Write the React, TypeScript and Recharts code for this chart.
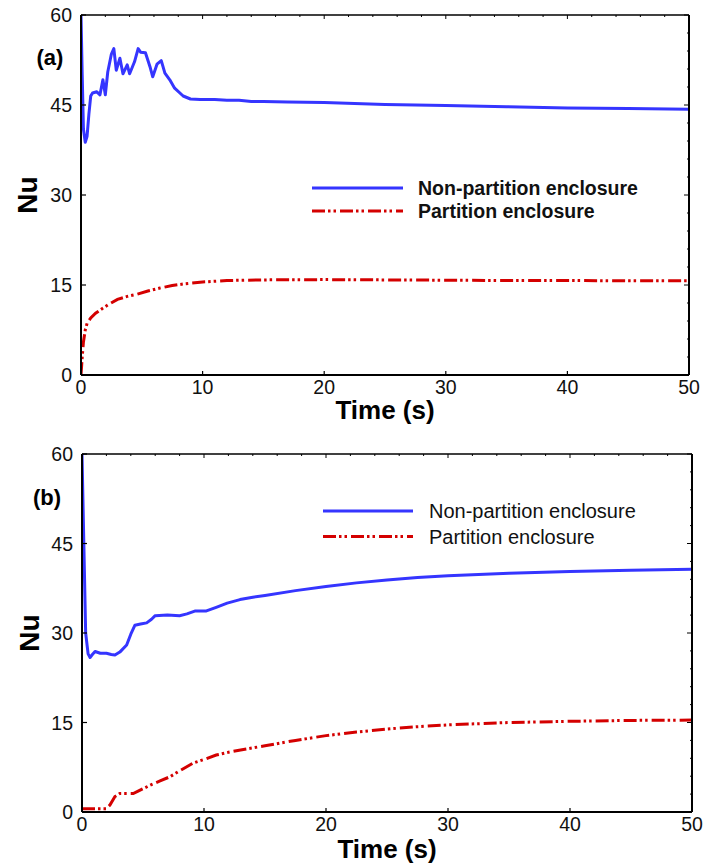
import React from "react";
import { LineChart, Line, XAxis, YAxis, Legend, Label } from "recharts";

// ---------- data ----------
const xTicks = [0, 10, 20, 30, 40, 50];
const xMinorTicks = [0, 2, 4, 6, 8, 10, 12, 14, 16, 18, 20, 22, 24, 26, 28, 30, 32, 34, 36, 38, 40, 42, 44, 46, 48, 50];
const yTicks = [0, 15, 30, 45, 60];
const yMinorTicks = [0, 3, 6, 9, 12, 15, 18, 21, 24, 27, 30, 33, 36, 39, 42, 45, 48, 51, 54, 57, 60];
const seriesNames = ["Non-partition enclosure", "Partition enclosure"];

// (a) non-partition
const aBlueTime = [0, 0.1, 0.2, 0.35, 0.5, 0.65, 0.8, 0.95, 1.3, 1.56, 1.8, 2.0, 2.2, 2.5, 2.7, 2.9, 3.2, 3.45, 3.8, 4.0, 4.4, 4.7, 4.9, 5.3, 5.7, 5.9, 6.25, 6.6, 6.9, 7.3, 7.7, 8.4, 9.0, 9.8, 11, 12, 13, 14, 15, 17, 20, 25, 30, 35, 40, 45, 50];
const aBlueNu = [60, 50, 41, 38.8, 39.8, 43.5, 46.5, 47.0, 47.2, 46.7, 49.2, 46.7, 50.5, 53.5, 54.4, 50.8, 52.8, 50.2, 51.7, 50.2, 52.2, 54.4, 53.8, 53.7, 51.2, 49.7, 51.8, 52.4, 50.3, 49.2, 47.8, 46.5, 46.0, 45.9, 45.9, 45.8, 45.8, 45.6, 45.6, 45.5, 45.4, 45.1, 44.9, 44.7, 44.5, 44.4, 44.3];
// (a) partition
const aRedTime = [0, 0.1, 0.2, 0.35, 0.5, 0.8, 1.2, 1.7, 2.3, 3, 3.8, 4.5, 5.5, 6.5, 7.5, 8.5, 10, 12, 15, 20, 25, 30, 35, 40, 45, 50];
const aRedNu = [0, 3, 5.5, 7.5, 8.6, 9.5, 10.3, 11, 11.8, 12.6, 13.1, 13.4, 14, 14.5, 14.9, 15.2, 15.5, 15.75, 15.85, 15.9, 15.85, 15.8, 15.75, 15.75, 15.7, 15.7];

// (b) non-partition
const bBlueTime = [0, 0.15, 0.3, 0.5, 0.66, 0.85, 1.07, 1.5, 2, 2.4, 2.7, 3.1, 3.66, 4.0, 4.34, 4.8, 5.3, 5.7, 6.0, 7, 8, 8.6, 9.3, 10.2, 11, 11.9, 12.95, 14, 15, 17.5, 20, 22.5, 25, 27.5, 30, 35, 40, 45, 50];
const bBlueNu = [60, 45, 30, 26.5, 25.9, 26.4, 26.9, 26.6, 26.6, 26.4, 26.3, 26.8, 28, 29.8, 31.3, 31.5, 31.7, 32.3, 32.9, 33, 32.9, 33.2, 33.7, 33.7, 34.3, 35, 35.6, 36, 36.3, 37.1, 37.8, 38.4, 38.9, 39.3, 39.6, 40, 40.3, 40.5, 40.7];
// (b) partition
const bRedTime = [0, 1, 2, 2.3, 2.7, 3.1, 3.6, 4.2, 4.6, 5.6, 6.4, 7.2, 8, 9.1, 10, 11, 12, 13, 15, 17.5, 20, 22.5, 25, 27.5, 30, 35, 40, 45, 50];
const bRedNu = [0.55, 0.55, 0.55, 1.2, 2.6, 3.1, 3.1, 3.1, 3.5, 4.5, 5.2, 5.9, 6.9, 8.2, 8.8, 9.55, 10, 10.4, 11.1, 12, 12.8, 13.4, 13.9, 14.3, 14.6, 15.0, 15.2, 15.35, 15.4];

const toData = (t: number[], v: number[]) => t.map((time, i) => ({ time, nu: v[i] }));

// ---------- styles ----------
const FONT = "'Liberation Sans', Arial, Helvetica, sans-serif";
const BLUE = "#3535ff";
const RED = "#d40000";
const RED_DASH = "13 3 2.5 3 2.5 4";
const AXIS = { stroke: "#000", strokeWidth: 2 };

const LeftTick = (props: any) => {
  const { x, y, payload } = props;
  return (
    <g>
      <line x1={x + 9} x2={x + 14} y1={y} y2={y} stroke="#000" strokeWidth={1.2} />
      <text x={x} y={y} dy="0.36em" textAnchor="end" fontFamily={FONT} fontSize={19.5} fill="#111">
        {payload.value}
      </text>
    </g>
  );
};

const BottomTick = (props: any) => {
  const { x, y, payload } = props;
  return (
    <g>
      <line x1={x} x2={x} y1={y - 5} y2={y - 9} stroke="#000" strokeWidth={1.2} />
      <text x={x} y={y} dy="0.71em" textAnchor="middle" fontFamily={FONT} fontSize={19.5} fill="#111">
        {payload.value}
      </text>
    </g>
  );
};

const TopTick = (props: any) => {
  const { x, y, payload } = props;
  const len = payload.value % 10 === 0 ? 4 : 2;
  return <line x1={x} x2={x} y1={y} y2={y + len} stroke="#000" strokeWidth={1} />;
};

const RightTick = (props: any) => {
  const { x, y, payload } = props;
  const len = payload.value % 15 === 0 ? 5 : 2;
  return <line x1={x - len} x2={x} y1={y} y2={y} stroke="#000" strokeWidth={1} />;
};

const makeLegend = (bold: boolean) => (props: any) => {
  const payload = (props.payload || []).filter((e: any) => seriesNames.includes(e.value));
  return (
    <svg width={360} height={52} style={{ display: "block", overflow: "visible" }}>
      {payload.map((entry: any, i: number) => {
        const cy = i === 0 ? 13 : bold ? 36 : 38.5;
        const isRed = entry.value === seriesNames[1];
        return (
          <g key={entry.value}>
            <line x1={0} x2={bold ? 91 : 90} y1={cy} y2={cy} stroke={entry.color}
              strokeWidth={3} strokeDasharray={isRed ? RED_DASH : undefined} />
            <text x={106} y={cy} dy="0.36em" fontFamily={FONT} fontSize={bold ? 19.5 : 20}
              fontWeight={bold ? "bold" : "normal"} fill="#111">
              {entry.value}
            </text>
          </g>
        );
      })}
    </svg>
  );
};

const NuLabel = (cxOff: number) => (props: any) => {
  const vb = props.viewBox;
  const cx = vb.x + cxOff;
  const cy = vb.y + vb.height / 2;
  return (
    <text x={cx} y={cy} transform={`rotate(-90 ${cx} ${cy})`} textAnchor="middle" dominantBaseline="central"
      fontFamily={FONT} fontSize={28} fontWeight="bold" fill="#000">
      Nu
    </text>
  );
};

const PanelLabel = (text: string, dx: number, dy: number) => (props: any) => {
  const vb = props.viewBox;
  return (
    <text x={vb.x + dx} y={vb.y + dy} textAnchor="middle" dominantBaseline="central"
      fontFamily={FONT} fontSize={22} fontWeight="bold" fill="#000">
      {text}
    </text>
  );
};

type PanelProps = {
  width: number;
  height: number;
  margin: any;
  yWidth: number;
  xHeight: number;
  blue: { time: number; nu: number }[];
  red: { time: number; nu: number }[];
  panel: string;
  panelDx: number;
  panelDy: number;
  nuX: number;
  timeOffset: number;
  legendPos: { left: number; top: number };
  boldLegend: boolean;
};

const Panel = (p: PanelProps) => (
  <LineChart width={p.width} height={p.height} margin={p.margin}>
    <XAxis xAxisId="main" dataKey="time" type="number" domain={[0, 50]} allowDataOverflow ticks={xTicks}
      interval={0} height={p.xHeight} tickSize={0} tickMargin={5} tickLine={false} axisLine={AXIS}
      tick={<BottomTick />}>
      <Label value="Time (s)" position="insideBottom" offset={p.timeOffset}
        style={{ fontFamily: FONT, fontSize: 26, fontWeight: "bold", fill: "#000" }} />
    </XAxis>
    <XAxis xAxisId="top" orientation="top" dataKey="time" type="number" domain={[0, 50]} allowDataOverflow
      ticks={xMinorTicks} interval={0} height={1} tickSize={0} tickMargin={0} tickLine={false}
      axisLine={{ stroke: "#000", strokeWidth: 1.6 }} tick={<TopTick />} />
    <YAxis yAxisId="main" type="number" domain={[0, 60]} allowDataOverflow ticks={yTicks} interval={0}
      width={p.yWidth} tickSize={0} tickMargin={9} tickLine={false} axisLine={AXIS} tick={<LeftTick />}>
      <Label content={NuLabel(p.nuX)} />
      <Label content={PanelLabel(p.panel, p.panelDx, p.panelDy)} />
    </YAxis>
    <YAxis yAxisId="right" orientation="right" type="number" domain={[0, 60]} allowDataOverflow
      ticks={yMinorTicks} interval={0} width={1} tickSize={0} tickMargin={0} tickLine={false}
      axisLine={AXIS} tick={<RightTick />} />
    <Legend layout="horizontal" verticalAlign="middle" align="center" content={makeLegend(p.boldLegend)}
      wrapperStyle={{ left: p.legendPos.left, top: p.legendPos.top, width: 360, height: 52 }} />
    <Line xAxisId="main" yAxisId="main" data={p.blue} dataKey="nu" name={seriesNames[0]} type="linear"
      stroke={BLUE} strokeWidth={3} dot={false} isAnimationActive={false} strokeLinejoin="round" />
    <Line xAxisId="main" yAxisId="main" data={p.red} dataKey="nu" name={seriesNames[1]} type="linear"
      stroke={RED} strokeWidth={3} strokeDasharray={RED_DASH} dot={false} isAnimationActive={false} />
    {/* invisible companion series so the frame (top / right) axes are drawn */}
    <Line xAxisId="top" yAxisId="right" data={p.red} dataKey="nu" name="frame" legendType="none"
      stroke="none" strokeWidth={0} dot={false} activeDot={false} isAnimationActive={false} />
  </LineChart>
);

export default function App() {
  return (
    <div style={{ position: "absolute", left: 0, top: 0, width: 705, height: 865, background: "#fff" }}>
      <Panel width={705} height={440} margin={{ top: 14, right: 15, left: 0, bottom: 0 }} yWidth={81}
        xHeight={65} blue={toData(aBlueTime, aBlueNu)} red={toData(aRedTime, aRedNu)}
        panel="(a)" panelDx={50} panelDy={42} nuX={27} timeOffset={21}
        legendPos={{ left: 312, top: 175 }} boldLegend={true} />
      <Panel width={705} height={425} margin={{ top: 13, right: 12, left: 0, bottom: 0 }} yWidth={82}
        xHeight={53} blue={toData(bBlueTime, bBlueNu)} red={toData(bRedTime, bRedNu)}
        panel="(b)" panelDx={47} panelDy={43} nuX={29} timeOffset={7}
        legendPos={{ left: 323, top: 58 }} boldLegend={false} />
    </div>
  );
}
